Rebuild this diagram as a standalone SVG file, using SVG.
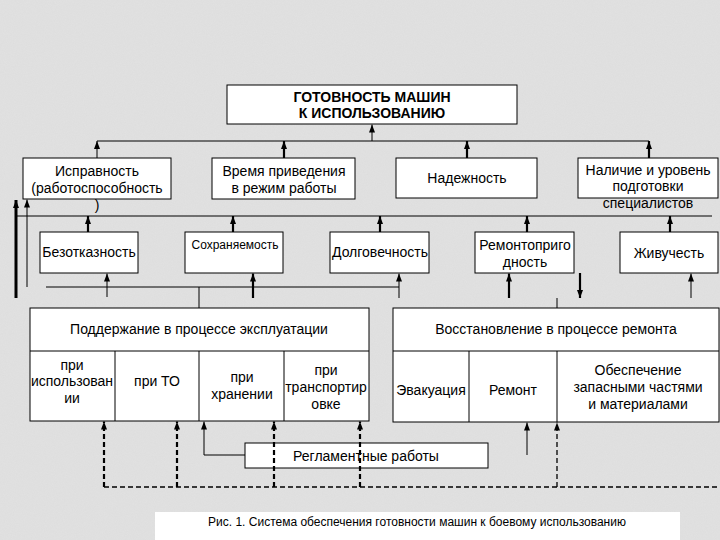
<svg xmlns="http://www.w3.org/2000/svg" width="720" height="540" viewBox="0 0 720 540">
<style>
.bx{fill:#fff;stroke:#000;stroke-width:1}
.t{font-family:"Liberation Sans",Arial,sans-serif;font-size:14px;fill:#000;text-anchor:middle}
.s{font-size:12px}
.b{font-weight:bold}
.c{fill:none;stroke:#000;stroke-width:1}
.k{stroke-width:2.2}
.d{fill:none;stroke:#000;stroke-width:1.3;stroke-dasharray:5 3}
.dk{stroke-width:2.2}
</style>
<defs>
<marker id="ah" viewBox="0 0 8 6" refX="8" refY="3" markerWidth="8" markerHeight="6" markerUnits="userSpaceOnUse" orient="auto">
<path d="M0,0 L8,3 L0,6 Z" fill="#000"/>
</marker>
<filter id="noise" x="0" y="0" width="100%" height="100%">
<feTurbulence type="fractalNoise" baseFrequency="0.9" numOctaves="2" seed="3" result="n"/>
<feColorMatrix type="matrix" values="0 0 0 0 0.5  0 0 0 0 0.5  0 0 0 0 0.5  0 0 0 0.25 0"/>
</filter>
</defs>
<rect x="0" y="0" width="720" height="540" fill="#e2e2e2"/>
<rect x="0" y="0" width="720" height="540" filter="url(#noise)" opacity="0.5"/>

<g id="connectors">
<line class="c" x1="97" y1="141" x2="649" y2="141"/>
<line class="c" x1="372" y1="141" x2="372" y2="124.5" marker-end="url(#ah)"/>
<line class="c" x1="97" y1="158" x2="97" y2="141" marker-end="url(#ah)"/>
<line class="c k" x1="284" y1="158" x2="284" y2="141" marker-end="url(#ah)"/>
<line class="c k" x1="467" y1="158" x2="467" y2="141" marker-end="url(#ah)"/>
<line class="c k" x1="649" y1="158" x2="649" y2="141" marker-end="url(#ah)"/>

<line class="c" x1="16" y1="216" x2="712" y2="216"/>
<line class="c k" x1="88" y1="232" x2="88" y2="216" marker-end="url(#ah)"/>
<line class="c k" x1="233" y1="232" x2="233" y2="216" marker-end="url(#ah)"/>
<line class="c k" x1="380" y1="232" x2="380" y2="216" marker-end="url(#ah)"/>
<line class="c k" x1="527" y1="232" x2="527" y2="216" marker-end="url(#ah)"/>
<line class="c k" x1="670" y1="232" x2="670" y2="216" marker-end="url(#ah)"/>

<line class="c" x1="16" y1="298" x2="16" y2="200" style="stroke-width:3" marker-end="url(#ah)"/>
<line class="c" x1="27" y1="287" x2="27" y2="199.5" marker-end="url(#ah)"/>

<line class="c" x1="46" y1="287" x2="399" y2="287"/>
<line class="c" x1="107" y1="297" x2="107" y2="273.5" marker-end="url(#ah)"/>
<line class="c k" x1="253" y1="298" x2="253" y2="273.5" marker-end="url(#ah)"/>
<line class="c" x1="399" y1="298" x2="399" y2="273.5" marker-end="url(#ah)"/>
<line class="c" x1="199" y1="287" x2="199" y2="308"/>

<line class="c k" x1="509" y1="298" x2="509" y2="273.5" marker-end="url(#ah)"/>
<line class="c k" x1="580" y1="273" x2="580" y2="298" marker-end="url(#ah)"/>
<line class="c" x1="691" y1="298" x2="691" y2="273.5" marker-end="url(#ah)"/>
<line class="c" x1="557" y1="298" x2="557" y2="308"/>

<polyline class="c" points="245,455 204,455 204,421.5" marker-end="url(#ah)"/>
<line class="c" x1="527" y1="455" x2="527" y2="422.5" marker-end="url(#ah)"/>
</g>

<g id="n-top"><rect class="bx" x="227" y="85" width="290" height="39"/>
<text class="t b" x="372" y="102">ГОТОВНОСТЬ МАШИН</text>
<text class="t b" x="372" y="118">К ИСПОЛЬЗОВАНИЮ</text></g>

<g id="n-ispravnost"><rect class="bx" x="23" y="158" width="148" height="41"/>
<text class="t" x="97" y="176">Исправность</text>
<text class="t" x="97" y="193">(работоспособность</text>
<text class="t" x="97" y="210">)</text></g>

<g id="n-vremya"><rect class="bx" x="212" y="158" width="143" height="41"/>
<text class="t" x="284" y="176">Время приведения</text>
<text class="t" x="284" y="193">в режим работы</text></g>

<g id="n-nadezhnost"><rect class="bx" x="396" y="158" width="141" height="40"/>
<text class="t" x="467" y="183">Надежность</text></g>

<g id="n-nalichie"><rect class="bx" x="578" y="158" width="140" height="40"/>
<text class="t" x="648" y="175">Наличие и уровень</text>
<text class="t" x="648" y="191">подготовки</text>
<text class="t" x="648" y="208">специалистов</text></g>

<g id="n-bezotkaznost"><rect class="bx" x="40" y="232" width="98" height="41"/>
<text class="t" x="89" y="257">Безотказность</text></g>

<g id="n-sokhranyaemost"><rect class="bx" x="185" y="232" width="98" height="41"/>
<text class="t s" x="235" y="249">Сохраняемость</text></g>

<g id="n-dolgovechnost"><rect class="bx" x="330" y="232" width="99" height="41"/>
<text class="t" x="380" y="257">Долговечность</text></g>

<g id="n-remontoprigodnost"><rect class="bx" x="475" y="232" width="99" height="41"/>
<text class="t" x="525" y="250">Ремонтоприго</text>
<text class="t" x="525" y="267">дность</text></g>

<g id="n-zhivuchest"><rect class="bx" x="620" y="232" width="98" height="41"/>
<text class="t" x="669" y="258">Живучесть</text></g>

<g id="n-podderzhanie"><rect class="bx" x="30" y="308" width="339" height="113"/>
<line class="c" x1="30" y1="351" x2="369" y2="351"/>
<line class="c" x1="115" y1="351" x2="115" y2="421"/>
<line class="c" x1="199" y1="351" x2="199" y2="421"/>
<line class="c" x1="284" y1="351" x2="284" y2="421"/>
<text class="t" x="199" y="334">Поддержание в процессе эксплуатации</text>
<text class="t" x="72" y="370">при</text>
<text class="t" x="72" y="386">использован</text>
<text class="t" x="72" y="403">ии</text>
<text class="t" x="157" y="386">при ТО</text>
<text class="t" x="242" y="382">при</text>
<text class="t" x="242" y="399">хранении</text>
<text class="t" x="326" y="375">при</text>
<text class="t" x="326" y="392">транспортир</text>
<text class="t" x="326" y="409">овке</text></g>

<g id="n-vosstanovlenie"><rect class="bx" x="393" y="308" width="326" height="114"/>
<line class="c" x1="393" y1="351" x2="719" y2="351"/>
<line class="c" x1="469" y1="351" x2="469" y2="422"/>
<line class="c" x1="557" y1="351" x2="557" y2="422"/>
<text class="t" x="556" y="334">Восстановление в процессе ремонта</text>
<text class="t" x="431" y="395">Эвакуация</text>
<text class="t" x="513" y="395">Ремонт</text>
<text class="t" x="638" y="375">Обеспечение</text>
<text class="t" x="638" y="392">запасными частями</text>
<text class="t" x="638" y="409">и материалами</text></g>

<g id="n-reglament"><rect class="bx" x="245" y="443" width="243" height="25"/>
<text class="t" x="366" y="461">Регламентные работы</text></g>

<g id="dashed">
<line class="d" x1="104" y1="487" x2="718" y2="487"/>
<line class="d dk" x1="104" y1="487" x2="104" y2="421.5" marker-end="url(#ah)"/>
<line class="d dk" x1="177" y1="487" x2="177" y2="421.5" marker-end="url(#ah)"/>
<line class="d dk" x1="274" y1="487" x2="274" y2="421.5" marker-end="url(#ah)"/>
<line class="d dk" x1="360" y1="487" x2="360" y2="421.5" marker-end="url(#ah)"/>
<line class="d" x1="557" y1="487" x2="557" y2="422.5" marker-end="url(#ah)"/>
</g>

<g id="caption"><rect x="155" y="512" width="525" height="28" fill="#fff"/>
<text class="t s" x="417" y="526">Рис. 1. Система обеспечения готовности машин к боевому использованию</text></g>
</svg>
